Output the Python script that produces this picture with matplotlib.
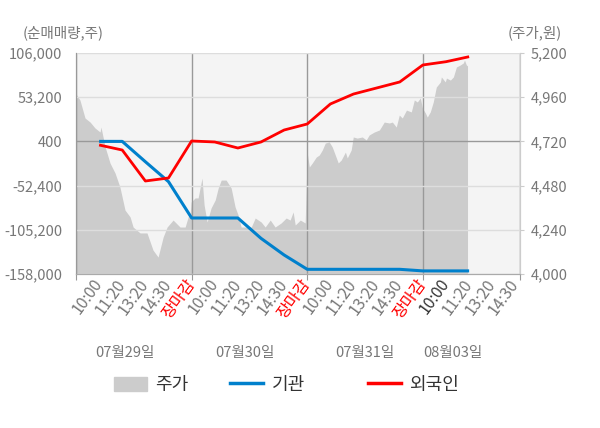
import matplotlib.pyplot as plt
from matplotlib.patches import Patch
from matplotlib.lines import Line2D

plt.rcParams['font.family'] = ['Noto Sans CJK KR', 'DejaVu Sans']

# x axis: each trading day spans 5 units, ticks at 1..19
tick_labels = ['10:00', '11:20', '13:20', '14:30', '장마감'] * 3 + ['10:00', '11:20', '13:20', '14:30']
day_labels = ['07월29일', '07월30일', '07월31일', '08월03일']
day_label_pos = [2.12, 7.32, 12.5, 16.3]

# net buying (shares), one point per tick
flow_x = list(range(1, 18))
inst = [400, 400, -23900, -47700, -91100, -91100, -91100, -115400, -135300,
        -152400, -152400, -152400, -152400, -152400, -154300, -154300, -154300]
foreign = [-3900, -9900, -46900, -43300, 900, -300, -7500, -300, 14000,
           21200, 45100, 57000, 64200, 71400, 91700, 95600, 101600]

# share price (won)
price_x = [0.0, 0.17, 0.39, 0.61, 0.82, 1.04, 1.08, 1.26, 1.47, 1.69, 1.90, 2.12, 2.34,
           2.47, 2.77, 3.07, 3.33, 3.55, 3.77, 3.94, 4.20, 4.50, 4.72, 4.85, 4.94,
           4.98, 5.15, 5.28, 5.45, 5.54, 5.67, 5.84, 6.02, 6.15, 6.28, 6.49, 6.71,
           6.88, 7.01, 7.14, 7.58, 7.75, 8.01, 8.18, 8.40, 8.61, 8.87, 9.09, 9.26,
           9.39, 9.48, 9.70, 9.91,
           10.0, 10.09, 10.22, 10.39, 10.52, 10.65, 10.78, 10.95, 11.08, 11.26, 11.34,
           11.47, 11.65, 11.73, 11.90, 11.99, 12.16, 12.38, 12.55, 12.68, 12.90, 13.12,
           13.33, 13.55, 13.68, 13.85, 13.98, 14.11, 14.29, 14.50, 14.63, 14.76, 14.89,
           14.98,
           15.11, 15.19, 15.32, 15.45, 15.58, 15.76, 15.80, 15.97, 16.02, 16.19, 16.32,
           16.45, 16.62, 16.75, 16.80, 16.88, 16.93]
price = [4977, 4945, 4847, 4825, 4793, 4771, 4798, 4690, 4603, 4548, 4472, 4347, 4310,
         4255, 4223, 4223, 4130, 4092, 4201, 4255, 4293, 4255, 4255, 4310, 4331,
         4391, 4413, 4413, 4521, 4375, 4282, 4358, 4402, 4467, 4510, 4510, 4467,
         4364, 4320, 4255, 4255, 4304, 4282, 4255, 4293, 4255, 4277, 4304, 4293,
         4337, 4266, 4293, 4277,
         4657, 4581, 4603, 4635, 4646, 4673, 4711, 4717, 4690, 4630, 4603,
         4619, 4662, 4630, 4673, 4744, 4738, 4744, 4728, 4755, 4771, 4782,
         4825, 4820, 4825, 4798, 4863, 4847, 4890, 4880, 4945, 4934, 4956,
         4901,
         4874, 4852, 4880, 4934, 5015, 5043, 5070, 5043, 5064, 5053, 5070,
         5124, 5135, 5146, 5162, 5135, 5130]

left_ticks = [-158000, -105200, -52400, 400, 53200, 106000]
right_ticks = [4000, 4240, 4480, 4720, 4960, 5200]

fig = plt.figure(figsize=(6, 4.28), dpi=100)
ax = fig.add_axes([76 / 600, 1 - 274 / 428, 444 / 600, 221 / 428])
ax2 = ax.twinx()
ax.set_zorder(2)
ax2.set_zorder(1)
ax.patch.set_visible(False)
ax2.patch.set_visible(True)
ax2.patch.set_facecolor('#f4f4f4')

ax2.fill_between(price_x, 4000, price, color='#cccccc', linewidth=0)
ax2.set_ylim(4000, 5200)
ax2.set_yticks(right_ticks)
ax2.set_yticklabels([f'{v:,}' for v in right_ticks])

ax.plot(flow_x, inst, color='#0080cc', lw=2.2, solid_capstyle='butt')
ax.plot(flow_x, foreign, color='#ff0000', lw=2.0, solid_capstyle='butt')
ax.set_ylim(-158000, 106000)
ax.set_yticks(left_ticks)
ax.set_yticklabels([f'{v:,}' for v in left_ticks])
ax.set_xlim(0, 19.2)

ax.set_xticks([0, 5, 10, 15, 19.2])
ax.set_xticklabels([''] * 5)
ax.xaxis.remove_overlapping_locs = False
ax.set_xticks(range(1, 20), minor=True)
ax.set_xticklabels(tick_labels, minor=True)
for i, lab in enumerate(ax.get_xticklabels(minor=True)):
    lab.set_rotation(54)
    lab.set_ha('right')
    lab.set_va('center')
    lab.set_rotation_mode('anchor')
    if tick_labels[i] == '장마감':
        lab.set_color('#ff0000')
    elif i == 15:
        lab.set_color('#333333')
    else:
        lab.set_color('#777777')

ax.tick_params(axis='x', which='minor', length=0, pad=5, labelsize=11.5)
ax.tick_params(axis='x', which='major', length=4, color='#999999')
ax.tick_params(axis='y', length=0, pad=10, labelsize=10.5, labelcolor='#777777')
ax2.tick_params(axis='y', length=3, color='#cccccc', pad=5, labelsize=10.5, labelcolor='#777777')

ax.set_axisbelow(True)
ax.yaxis.grid(True, color='#dddddd', lw=1)
ax.xaxis.grid(True, which='major', color='#999999', lw=1)
ax.get_ygridlines()[3].set_color('#999999')

for a in (ax, ax2):
    a.spines['top'].set_visible(False)
    a.spines['left'].set_color('#999999')
    a.spines['bottom'].set_color('#aaaaaa')
    a.spines['right'].set_color('#cccccc')

for pos, txt in zip(day_label_pos, day_labels):
    ax.text(pos, -0.357, txt, transform=ax.get_xaxis_transform(),
            ha='center', va='center', fontsize=10.5, color='#777777')

fig.text(23 / 600, 1 - 33 / 428, '(순매매량,주)', ha='left', va='center',
         fontsize=10.5, color='#777777')
fig.text(562 / 600, 1 - 33 / 428, '(주가,원)', ha='right', va='center',
         fontsize=10.5, color='#777777')

# legend: one entry per legend so each can sit where the reference has it
legend_items = [(Patch(color='#cccccc'), '주가', 114),
                (Line2D([], [], color='#0080cc', lw=2.5), '기관', 230),
                (Line2D([], [], color='#ff0000', lw=2.5), '외국인', 368)]
for handle, label, left_px in legend_items:
    leg = fig.legend([handle], [label], loc='center left',
                     bbox_to_anchor=(left_px / 600, 1 - 385 / 428), frameon=False,
                     fontsize=13, handlelength=1.8, handleheight=0.8,
                     handletextpad=0.5, borderpad=0, borderaxespad=0,
                     labelcolor='#333333')

fig.savefig('out.png', dpi=100)
